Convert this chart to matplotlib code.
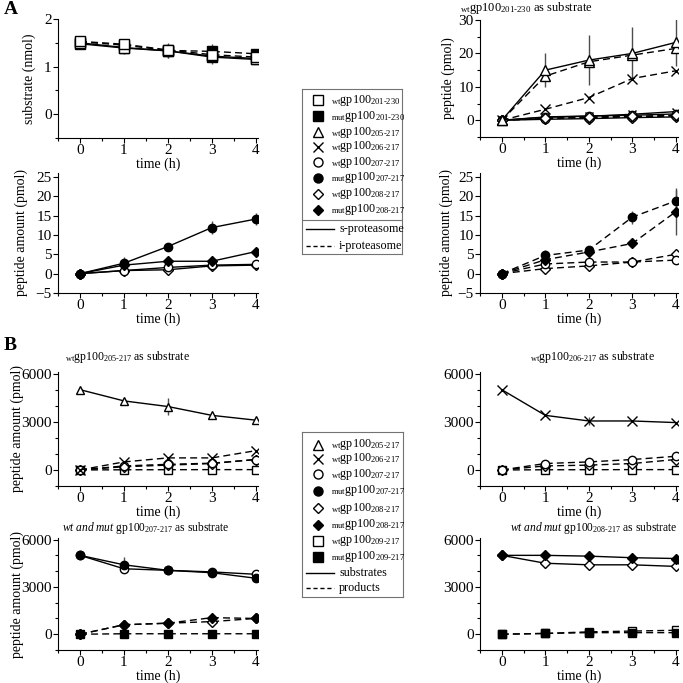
import matplotlib
matplotlib.use('Agg')
import matplotlib.pyplot as plt
from matplotlib.ticker import MultipleLocator
from matplotlib.transforms import Bbox

plt.rcParams['font.family'] = ['Liberation Serif', 'DejaVu Serif']
plt.rcParams['mathtext.fontset'] = 'custom'
plt.rcParams['mathtext.rm'] = 'Liberation Serif'
plt.rcParams['mathtext.it'] = 'Liberation Serif:italic'
plt.rcParams['font.size'] = 10

time = [0, 1, 2, 3, 4]

# --- panel A, substrate gp100 201-230 (nmol)
a1_wt_s = [1.50, 1.40, 1.33, 1.22, 1.17]
a1_mut_s = [1.48, 1.39, 1.33, 1.20, 1.15]
a1_wt_i = [1.53, 1.47, 1.35, 1.25, 1.20]
a1_mut_i = [1.52, 1.45, 1.34, 1.32, 1.27]
a1_err = [0.08, 0.12, 0.15, 0.15, 0.10]

# --- panel A, products of wt gp100 201-230 (pmol)
a2_tri_s = [0, 15.0, 18.0, 20.0, 23.3]
a2_tri_s_err = [0, 5.0, 7.5, 8.0, 7.0]
a2_tri_i = [0, 13.2, 17.5, 19.5, 21.5]
a2_x_i = [0, 3.3, 6.8, 12.5, 14.8]
a2_x_s = [0, 0.9, 1.2, 1.8, 2.6]
a2_circ_s = [0, 1.0, 1.3, 1.5, 1.9]
a2_circ_i = [0, 0.5, 0.8, 1.0, 1.3]
a2_dia_s = [0, 0.3, 0.5, 0.8, 1.0]
a2_dia_i = [0, 0.6, 1.0, 1.2, 1.5]

# --- panel A, mut substrate products, s-proteasome (pmol)
a3_fcirc = [0, 2.7, 7.0, 11.9, 14.1]
a3_fcirc_err = [0, 1.5, 0.3, 1.6, 1.6]
a3_fdia = [0, 2.2, 3.2, 3.2, 5.7]
a3_ocirc = [0, 0.8, 1.6, 2.2, 2.4]
a3_odia = [0, 0.8, 1.0, 2.0, 2.2]
a3_odia_err = [0, 0.3, 0.7, 0.8, 0.3]

# --- panel A, mut substrate products, i-proteasome (pmol)
a4_fcirc = [0, 4.7, 6.1, 14.6, 18.8]
a4_fcirc_err = [0, 1.5, 0.5, 1.7, 2.7]
a4_fdia = [0, 3.6, 5.6, 7.8, 16.0]
a4_fdia_err = [0, 0.5, 0.5, 0.5, 6.0]
a4_ocirc = [0, 2.5, 3.0, 3.0, 3.5]
a4_odia = [0, 1.3, 2.0, 3.0, 5.0]
a4_odia_err = [0, 0.5, 0.5, 1.0, 0.8]

# --- panel B, wt gp100 205-217 as substrate
b1_tri = [5000, 4300, 3950, 3400, 3100]
b1_tri_err = [0, 0, 500, 0, 0]
b1_x = [0, 500, 750, 750, 1200]
b1_circ = [0, 250, 350, 420, 650]
b1_dia = [0, 200, 300, 400, 650]
b1_sq = [0, 10, 15, 20, 20]

# --- panel B, wt gp100 206-217 as substrate
b2_x = [5000, 3400, 3050, 3050, 2950]
b2_x_err = [0, 0, 250, 0, 0]
b2_circ = [0, 400, 500, 650, 850]
b2_dia = [0, 250, 300, 400, 650]
b2_sq = [0, 10, 15, 20, 20]

# --- panel B, wt and mut gp100 207-217 as substrate
b3_ocirc = [5000, 4150, 4050, 3950, 3800]
b3_fcirc = [5000, 4400, 4050, 3900, 3550]
b3_fcirc_err = [0, 500, 0, 0, 0]
b3_odia = [0, 600, 700, 800, 1000]
b3_fdia = [0, 600, 700, 1050, 1000]
b3_fdia_err = [0, 0, 200, 0, 0]
b3_fsq = [0, 30, 30, 30, 30]

# --- panel B, wt and mut gp100 208-217 as substrate
b4_fdia = [5000, 5000, 4950, 4850, 4800]
b4_odia = [5000, 4500, 4400, 4400, 4300]
b4_osq = [0, 50, 150, 200, 250]
b4_fsq = [0, 50, 100, 100, 100]

W = 683.0


def box(left, top, right, bottom):
    return [left / W, 1 - bottom / W, (right - left) / W, (bottom - top) / W]


def series(ax, y, marker, filled, ls, err=None, ms=6):
    fc = 'black' if filled else 'white'
    if err is not None:
        ax.errorbar(time, y, yerr=err, fmt='none', ecolor='0.3', elinewidth=1, capsize=0, zorder=2)
    ax.plot(time, y, color='black', ls=ls, lw=1, marker=marker, ms=ms,
            mfc=fc, mec='black', mew=1, zorder=3, dashes=(5, 3) if ls == '--' else (None, None))


def style(ax, ylim, major, minor):
    ax.set_xlim(-0.5, 4.05)
    ax.set_ylim(*ylim)
    ax.spines['top'].set_visible(False)
    ax.spines['right'].set_visible(False)
    ax.xaxis.set_major_locator(MultipleLocator(1))
    ax.xaxis.set_minor_locator(MultipleLocator(0.5))
    ax.yaxis.set_major_locator(MultipleLocator(major))
    ax.yaxis.set_minor_locator(MultipleLocator(minor))
    ax.tick_params(which='major', direction='out', length=3.5, width=0.8, labelsize=11, pad=1)
    ax.tick_params(which='minor', direction='out', length=2, width=0.8)
    ax.set_xlabel('time (h)', fontsize=10, labelpad=0)


def ylabel_at(ax, text, xpix, clip=False):
    ax.set_ylabel(text, fontsize=10)
    pos = ax.get_position()
    ax.yaxis.set_label_coords((xpix - pos.x0 * W) / (pos.width * W), 0.5)
    if clip:
        lbl = ax.yaxis.label
        lbl.set_clip_box(Bbox([[449, 0], [W, W]]))
        lbl.set_clip_on(True)


fig = plt.figure(figsize=(6.83, 6.83), dpi=100)

# A top-left
ax = fig.add_axes(box(58, 19, 258, 138))
series(ax, a1_mut_s, 's', True, '-', a1_err, ms=7)
series(ax, a1_mut_i, 's', True, '--', a1_err, ms=7)
series(ax, a1_wt_s, 's', False, '-', None, ms=7)
series(ax, a1_wt_i, 's', False, '--', None, ms=7)
style(ax, (-0.5, 2.0), 1, 0.5)
ylabel_at(ax, 'substrate (nmol)', 36)

# A top-right
ax = fig.add_axes(box(480, 20, 678, 137))
series(ax, a2_x_s, 'x', False, '-')
series(ax, a2_circ_s, 'o', False, '-')
series(ax, a2_dia_s, 'D', False, '-', ms=5)
series(ax, a2_circ_i, 'o', False, '--')
series(ax, a2_dia_i, 'D', False, '--', ms=5)
series(ax, a2_x_i, 'x', False, '--', ms=7)
series(ax, a2_tri_i, '^', False, '--', ms=7)
series(ax, a2_tri_s, '^', False, '-', a2_tri_s_err, ms=7)
style(ax, (-5, 30), 10, 5)
ylabel_at(ax, 'peptide (pmol)', 455)
fig.text(460 / W, 1 - 7.5 / W,
         r'$_{\mathrm{wt}}$gp100$_{\mathrm{201\text{-}230}}$ as substrate',
         ha='left', va='center', fontsize=9)

# A bottom-left
ax = fig.add_axes(box(58, 173, 258, 293))
series(ax, a3_odia, 'D', False, '-', a3_odia_err, ms=5)
series(ax, a3_ocirc, 'o', False, '-')
series(ax, a3_fdia, 'D', True, '-', ms=5)
series(ax, a3_fcirc, 'o', True, '-', a3_fcirc_err)
style(ax, (-5, 26), 5, 5)
ylabel_at(ax, 'peptide amount (pmol)', 28)

# A bottom-right
ax = fig.add_axes(box(480, 173, 678, 293))
series(ax, a4_odia, 'D', False, '--', a4_odia_err, ms=5)
series(ax, a4_ocirc, 'o', False, '--')
series(ax, a4_fdia, 'D', True, '--', a4_fdia_err, ms=5)
series(ax, a4_fcirc, 'o', True, '--', a4_fcirc_err)
style(ax, (-5, 26), 5, 5)
ylabel_at(ax, 'peptide amount (pmol)', 453)

# B top-left
ax = fig.add_axes(box(58, 372, 258, 486))
series(ax, b1_sq, 's', False, '--')
series(ax, b1_dia, 'D', False, '--', ms=5)
series(ax, b1_circ, 'o', False, '--')
series(ax, b1_x, 'x', False, '--', ms=7)
series(ax, b1_tri, '^', False, '-', b1_tri_err)
style(ax, (-1000, 6100), 3000, 1000)
ylabel_at(ax, 'peptide amount (pmol)', 24)
fig.text(65 / W, 1 - 357 / W,
         r'$_{\mathrm{wt}}$gp100$_{\mathrm{205\text{-}217}}$ as substrate',
         ha='left', va='center', fontsize=8.5)

# B top-right
ax = fig.add_axes(box(480, 372, 678, 486))
series(ax, b2_sq, 's', False, '--')
series(ax, b2_dia, 'D', False, '--', ms=5)
series(ax, b2_circ, 'o', False, '--')
series(ax, b2_x, 'x', False, '-', b2_x_err, ms=7)
style(ax, (-1000, 6100), 3000, 1000)
ylabel_at(ax, 'peptide (pmol)', 446, clip=True)
fig.text(530 / W, 1 - 357 / W,
         r'$_{\mathrm{wt}}$gp100$_{\mathrm{206\text{-}217}}$ as substrate',
         ha='left', va='center', fontsize=8.5)

# B bottom-left
ax = fig.add_axes(box(58, 538, 258, 650))
series(ax, b3_fsq, 's', True, '--')
series(ax, b3_odia, 'D', False, '--', ms=5)
series(ax, b3_fdia, 'D', True, '--', b3_fdia_err, ms=5)
series(ax, b3_ocirc, 'o', False, '-')
series(ax, b3_fcirc, 'o', True, '-', b3_fcirc_err)
style(ax, (-1000, 6100), 3000, 1000)
ylabel_at(ax, 'peptide amount (pmol)', 24)
fig.text(62 / W, 1 - 528 / W,
         r'$\mathit{wt\ and\ mut}$ gp100$_{\mathrm{207\text{-}217}}$ as substrate',
         ha='left', va='center', fontsize=8.3)

# B bottom-right
ax = fig.add_axes(box(480, 538, 678, 650))
series(ax, b4_osq, 's', False, '--')
series(ax, b4_fsq, 's', True, '--')
series(ax, b4_odia, 'D', False, '-', ms=5)
series(ax, b4_fdia, 'D', True, '-', ms=5)
style(ax, (-1000, 6100), 3000, 1000)
ylabel_at(ax, 'peptide amount (pmol)', 443, clip=True)
fig.text(510 / W, 1 - 528 / W,
         r'$\mathit{wt\ and\ mut}$ gp100$_{\mathrm{208\text{-}217}}$ as substrate',
         ha='left', va='center', fontsize=8.3)

# panel letters
fig.text(4 / W, 1 - 9 / W, 'A', fontsize=14, fontweight='bold', ha='left', va='center')
fig.text(4 / W, 1 - 346 / W, 'B', fontsize=14, fontweight='bold', ha='left', va='center')


# legends drawn in their own axes (pixel coordinates)
def legend_box(left, top, right, bottom, rows, lines, sep=None):
    lg = fig.add_axes(box(left, top, right, bottom))
    lg.set_xlim(left, right)
    lg.set_ylim(bottom, top)
    lg.set_xticks([])
    lg.set_yticks([])
    for s in lg.spines.values():
        s.set_color('0.45')
        s.set_linewidth(0.8)
    for y, marker, filled, label in rows:
        ms = 5 if marker == 'D' else 6.5
        lg.plot([left + 16], [y], marker=marker, ms=ms, mfc='black' if filled else 'white',
                mec='black', mew=1, ls='none')
        lg.text(left + 29, y, label, ha='left', va='center', fontsize=8.7)
    for y, ls, label in lines:
        lg.plot([left + 4, left + 32], [y, y], color='black', lw=1, ls=ls,
                dashes=(3, 2) if ls == '--' else (None, None))
        lg.text(left + 37, y, label, ha='left', va='center', fontsize=8.7)
    if sep is not None:
        lg.axhline(sep, color='0.45', lw=0.8)


def lab(kind, rng):
    return r'$_{\mathrm{%s}}$gp100$_{\mathrm{%s}}$' % (kind, rng.replace('-', r'\text{-}'))


legend_box(302, 89, 402, 254,
           [(100, 's', False, lab('wt', '201-230')),
            (116, 's', True, lab('mut', '201-230')),
            (132, '^', False, lab('wt', '205-217')),
            (147, 'x', False, lab('wt', '206-217')),
            (162, 'o', False, lab('wt', '207-217')),
            (178, 'o', True, lab('mut', '207-217')),
            (194, 'D', False, lab('wt', '208-217')),
            (210, 'D', True, lab('mut', '208-217'))],
           [(229, '-', 's-proteasome'), (246, '--', 'i-proteasome')],
           sep=220)

legend_box(302, 432, 403, 597,
           [(445, '^', False, lab('wt', '205-217')),
            (459, 'x', False, lab('wt', '206-217')),
            (474, 'o', False, lab('wt', '207-217')),
            (491, 'o', True, lab('mut', '207-217')),
            (508, 'D', False, lab('wt', '208-217')),
            (525, 'D', True, lab('mut', '208-217')),
            (541, 's', False, lab('wt', '209-217')),
            (557, 's', True, lab('mut', '209-217'))],
           [(573, '-', 'substrates'), (588, '--', 'products')])

fig.savefig('out.png', dpi=100)
